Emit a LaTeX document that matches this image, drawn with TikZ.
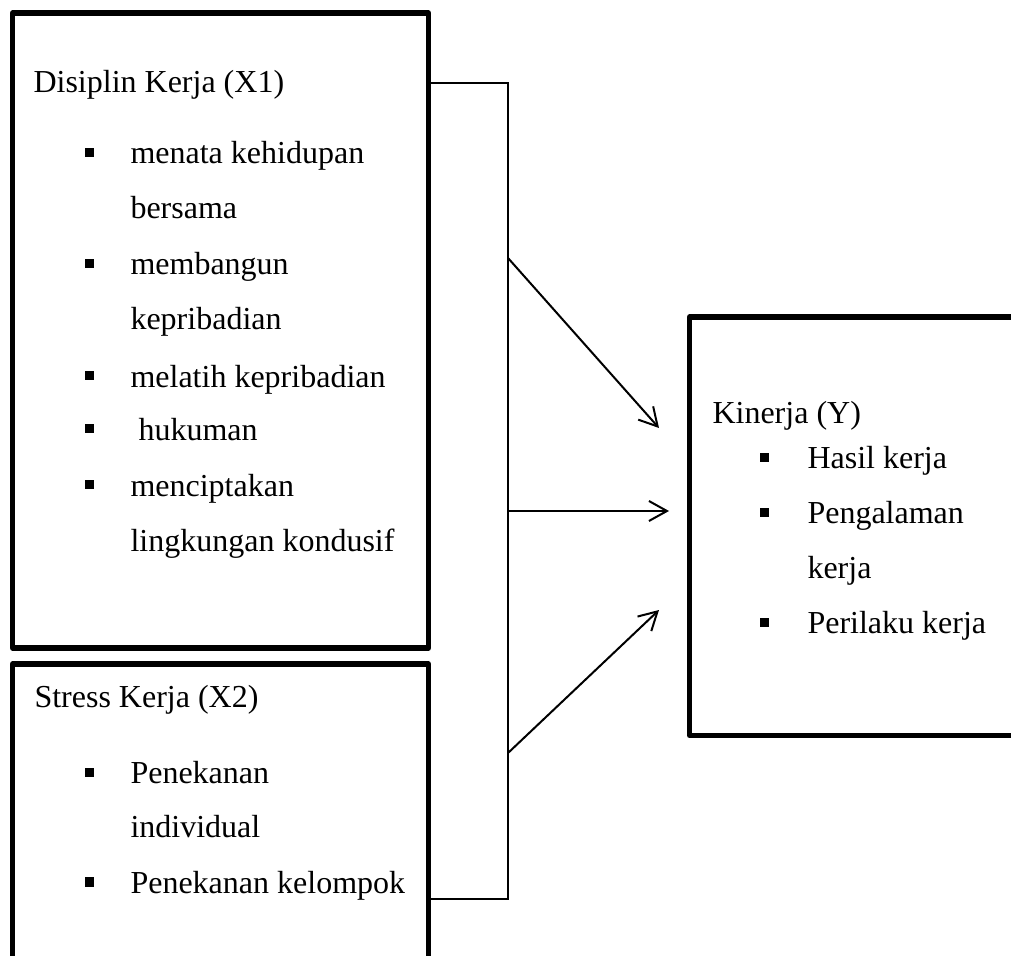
\documentclass[tikz,border=0pt]{standalone}
\usepackage{fontspec}
\setmainfont{Liberation Serif}
\usetikzlibrary{arrows.meta}
\begin{document}
\begin{tikzpicture}[x=0.375pt,y=-0.375pt,
  frame/.style={draw, line width=1.9pt, line join=round, minimum width=156pt, anchor=north west, inner sep=0pt, outer sep=0pt},
  txt/.style={anchor=base west, inner sep=0pt, font=\fontsize{12}{14}\selectfont},
  bul/.style={fill, minimum size=3.4pt, inner sep=0pt},
  conn/.style={line width=0.75pt},
  arr/.style={conn, -{Straight Barb[length=6.75pt,width=7.5pt,line width=0.75pt]}}]
\useasboundingbox (0,0) rectangle (1011,956);
\clip (0,0) rectangle (1011,956);

% boxes
\node[frame, minimum height=238.125pt] (b1) at (12.5,13) {};
\node[frame, minimum height=126pt] (b2) at (12.5,664) {};
\node[frame, minimum width=138.94pt, minimum height=156.94pt] (b3) at (689.5,317) {};

% box 1 text
\node[txt] (t1) at (33,93) {Disiplin Kerja (X1)};
\node[bul] (p11) at (89.5,152.5) {};
\node[txt] (t11a) at (130,164) {menata kehidupan};
\node[txt] (t11b) at (130,218) {bersama};
\node[bul] (p12) at (89.5,263.5) {};
\node[txt] (t12a) at (130,275) {membangun};
\node[txt] (t12b) at (130,330) {kepribadian};
\node[bul] (p13) at (89.5,375.5) {};
\node[txt] (t13) at (130,387) {melatih kepribadian};
\node[bul] (p14) at (89.5,428.5) {};
\node[txt] (t14) at (138,440) {hukuman};
\node[bul] (p15) at (89.5,484.5) {};
\node[txt] (t15a) at (130,496) {menciptakan};
\node[txt] (t15b) at (130,551) {lingkungan kondusif};

% box 2 text
\node[txt] (t2) at (34,707) {Stress Kerja (X2)};
\node[bul] (p21) at (89.5,772.5) {};
\node[txt] (t21a) at (130,783) {Penekanan};
\node[txt] (t21b) at (130,837) {individual};
\node[bul] (p22) at (89.5,882) {};
\node[txt] (t22) at (130,893) {Penekanan kelompok};

% box 3 text
\node[txt] (t3) at (712,423) {Kinerja (Y)};
\node[bul] (p31) at (764.5,457.5) {};
\node[txt] (t31) at (807,468) {Hasil kerja};
\node[bul] (p32) at (764.5,512.5) {};
\node[txt] (t32a) at (807,523) {Pengalaman};
\node[txt] (t32b) at (807,578) {kerja};
\node[bul] (p33) at (764.5,622.5) {};
\node[txt] (t33) at (807,633) {Perilaku kerja};

% connectors
\coordinate (jt) at (508,83);
\coordinate (jb) at (508,899);
\coordinate (s1) at (508,258);
\coordinate (s2) at (508,511);
\coordinate (s3) at (508,753);
\coordinate (e1) at (659,428);
\coordinate (e2) at (669,511);
\coordinate (e3) at (659,610);
\draw[conn] (b1.east |- jt) -- (jt) -- (jb) -- (b2.east |- jb);
\draw[arr] (s1) -- (e1);
\draw[arr] (s2) -- (e2);
\draw[arr] (s3) -- (e3);
\end{tikzpicture}
\end{document}
